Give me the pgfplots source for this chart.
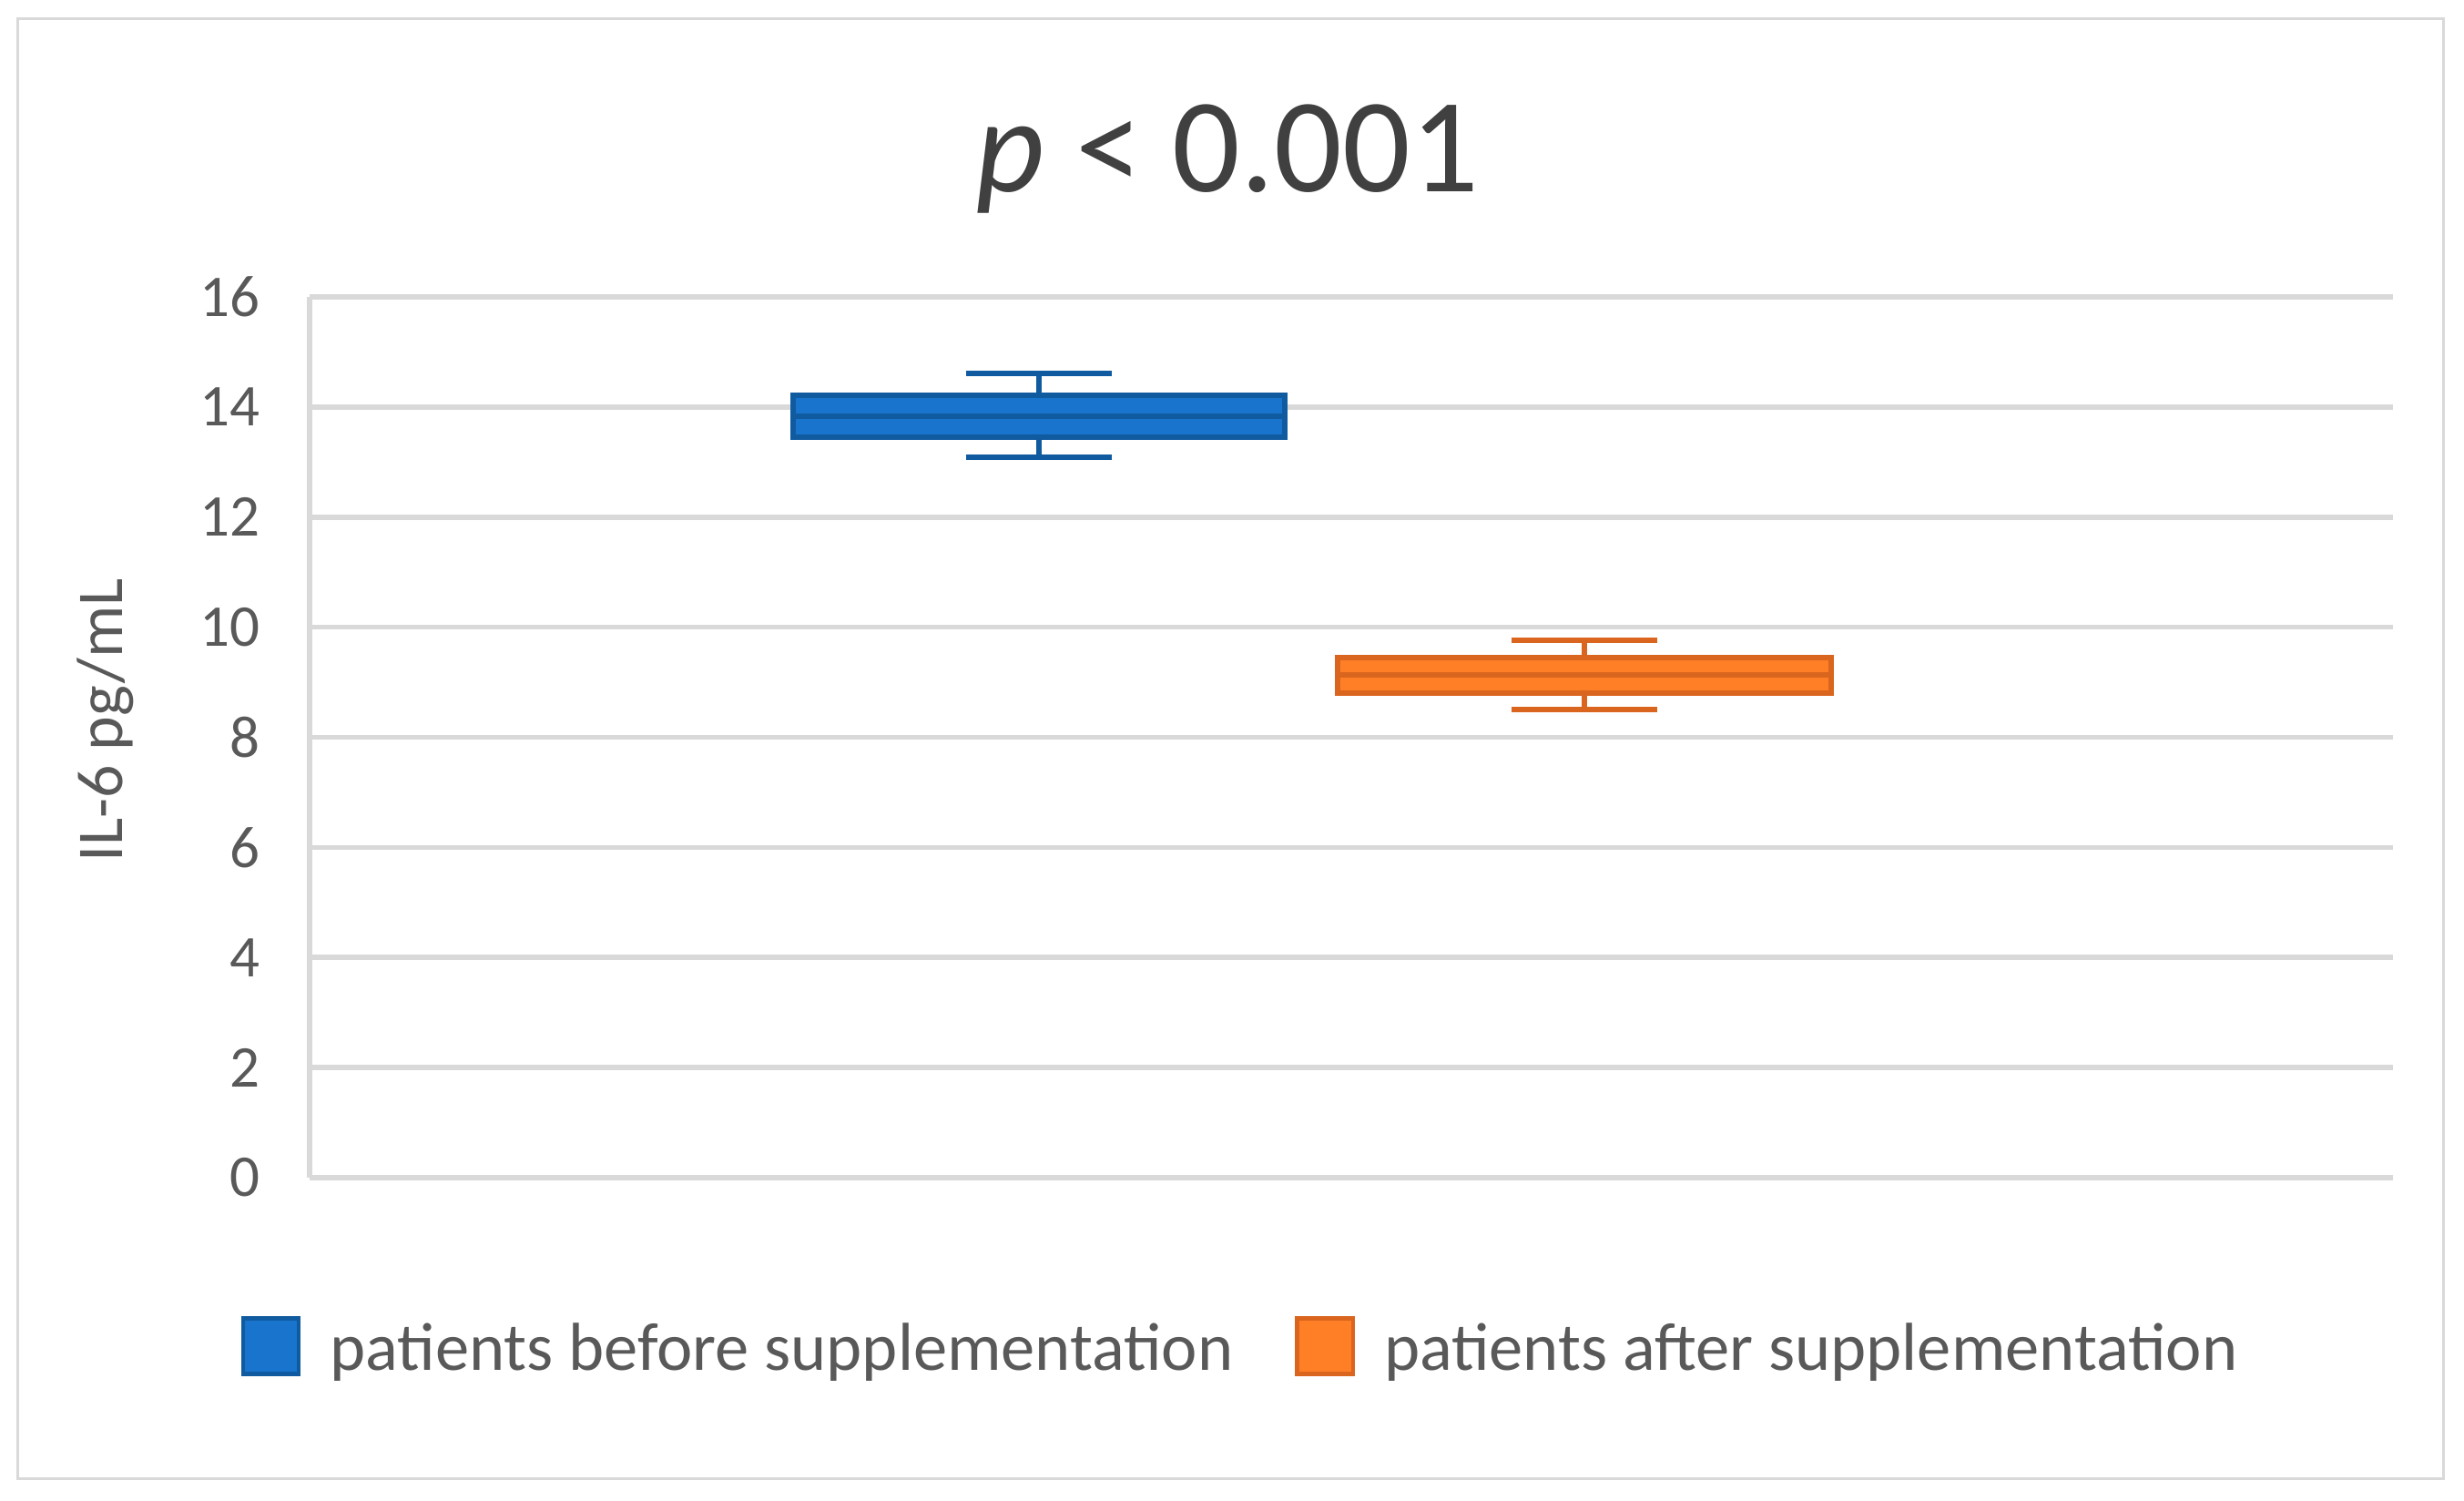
\documentclass[border=0pt]{standalone}
\usepackage{fontspec}
\setmainfont{Carlito}
\usepackage{pgfplots}
\pgfplotsset{compat=1.18}
\definecolor{bluefill}{HTML}{1874CD}
\definecolor{blueline}{HTML}{105BA0}
\definecolor{orangefill}{HTML}{FF7F27}
\definecolor{orangeline}{HTML}{D9651E}
\definecolor{gridgray}{HTML}{D9D9D9}
\definecolor{tickgray}{HTML}{595959}
\definecolor{titlegray}{HTML}{404040}
\begin{document}
\begin{tikzpicture}
\path[use as bounding box] (0,0) rectangle (676.5bp,412bp);
\draw[gridgray,line width=0.75bp] (4.75bp,6bp) rectangle (670.75bp,406.75bp);
\node[anchor=base,font=\fontsize{37}{44}\selectfont,text=titlegray] at (337bp,359.4bp) {\textit{p} < 0.001};
\begin{axis}[
  at={(85bp,88.75bp)}, anchor=south west,
  scale only axis, width=572bp, height=241.75bp,
  xmin=0, xmax=1, ymin=0, ymax=16,
  xtick=\empty, ytick={0,2,...,16},
  major tick length=0pt,
  axis x line*=bottom, axis y line*=left,
  axis line style={draw=gridgray,line width=1.4bp,-},
  ymajorgrids, grid style={draw=gridgray,line width=1.4bp},
  /pgf/number format/assume math mode=true,
  yticklabel style={font=\fontsize{16.3}{19}\selectfont,text=tickgray,inner sep=0pt,xshift=-13.5bp},
  ylabel={IL-6 pg/mL},
  every axis y label/.style={at={(rel axis cs:-0.0896,0.5193)},rotate=90,anchor=base,
    font=\fontsize{18}{21}\selectfont,text=tickgray},
  legend columns=2,
  legend style={at={(rel axis cs:-0.0332,-0.1913)},anchor=west,draw=none,fill=none,
    inner sep=0pt,font=\fontsize{18.7}{22}\selectfont,text=tickgray,
    nodes={inner sep=0pt,anchor=base west},
    /tikz/every odd column/.append style={column sep=8bp},
    /tikz/every even column/.append style={column sep=17bp}},
  bx/.style={line width=1.5bp,forget plot},
]
% before supplementation: whiskers 13.08 / 14.61, quartiles 13.45 / 14.22, median 13.84
\addplot[bx,draw=blueline] coordinates {(0.350,13.08) (0.350,14.61)};
\addplot[bx,draw=blueline] coordinates {(0.315,14.61) (0.385,14.61)};
\addplot[bx,draw=blueline] coordinates {(0.315,13.08) (0.385,13.08)};
\addplot[bx,draw=blueline,fill=bluefill] coordinates {(0.232,13.45) (0.468,13.45) (0.468,14.22) (0.232,14.22)} -- cycle;
\addplot[bx,draw=blueline] coordinates {(0.232,13.84) (0.468,13.84)};
% after supplementation: whiskers 8.50 / 9.765, quartiles 8.81 / 9.445, median 9.14
\addplot[bx,draw=orangeline] coordinates {(0.612,8.50) (0.612,9.765)};
\addplot[bx,draw=orangeline] coordinates {(0.577,9.765) (0.647,9.765)};
\addplot[bx,draw=orangeline] coordinates {(0.577,8.50) (0.647,8.50)};
\addplot[bx,draw=orangeline,fill=orangefill] coordinates {(0.4935,8.81) (0.7305,8.81) (0.7305,9.445) (0.4935,9.445)} -- cycle;
\addplot[bx,draw=orangeline] coordinates {(0.4935,9.14) (0.7305,9.14)};
\addlegendimage{legend image code/.code={\draw[draw=blueline,fill=bluefill,line width=1.1bp] (0bp,-1bp) rectangle (15.3bp,14.3bp);}}
\addlegendentry{patients before supplementation}
\addlegendimage{legend image code/.code={\draw[draw=orangeline,fill=orangefill,line width=1.1bp] (0bp,-1bp) rectangle (15.3bp,14.3bp);}}
\addlegendentry{patients after supplementation}
\end{axis}
\end{tikzpicture}
\end{document}
